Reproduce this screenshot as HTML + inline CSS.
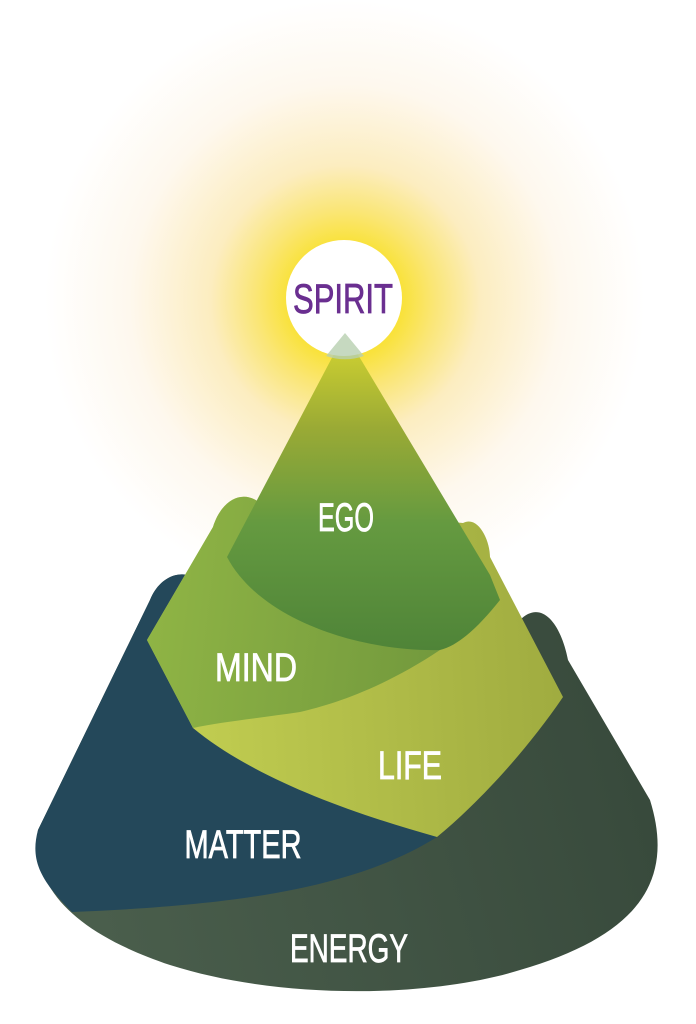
<!DOCTYPE html>
<html><head><meta charset="utf-8"><style>
html,body{margin:0;padding:0;background:#fff;width:696px;height:1024px;overflow:hidden}
svg{display:block}
text{font-family:"Liberation Sans Narrow","Liberation Sans",sans-serif;fill:#fff;stroke:#fff;stroke-width:0.8;font-weight:normal}
</style></head><body>
<svg width="696" height="1024" viewBox="0 0 696 1024" xmlns="http://www.w3.org/2000/svg">
<defs>
<radialGradient id="glow" cx="345" cy="300" r="300" gradientUnits="userSpaceOnUse">
<stop offset="0" stop-color="#fff6a0"/>
<stop offset="0.19" stop-color="#f9e23a"/>
<stop offset="0.3" stop-color="#fae677"/>
<stop offset="0.45" stop-color="#fcedc0"/>
<stop offset="0.72" stop-color="#fef8ee"/>
<stop offset="1" stop-color="#ffffff"/>
</radialGradient>
<linearGradient id="ego" x1="0" y1="333" x2="0" y2="650" gradientUnits="userSpaceOnUse">
<stop offset="0" stop-color="#d6d630"/>
<stop offset="0.3" stop-color="#9aaa35"/>
<stop offset="0.6" stop-color="#659a40"/>
<stop offset="1" stop-color="#4f8438"/>
</linearGradient>
<linearGradient id="mind" x1="150" y1="600" x2="480" y2="640" gradientUnits="userSpaceOnUse">
<stop offset="0" stop-color="#8fb445"/>
<stop offset="1" stop-color="#6f963c"/>
</linearGradient>
<linearGradient id="life" x1="200" y1="720" x2="560" y2="700" gradientUnits="userSpaceOnUse">
<stop offset="0" stop-color="#c0cc50"/>
<stop offset="1" stop-color="#a0ac40"/>
</linearGradient>
<linearGradient id="energy" x1="100" y1="950" x2="650" y2="800" gradientUnits="userSpaceOnUse">
<stop offset="0" stop-color="#4a5e4c"/>
<stop offset="1" stop-color="#384a3c"/>
</linearGradient>
</defs>
<circle cx="345" cy="300" r="300" fill="url(#glow)"/>
<path d="M150,600 C160,575 185,565 205,585 L520,620 C540,600 560,620 568,660 L650,800 C675,880 640,935 520,970 C430,998 280,1000 170,965 C80,935 30,890 38,830 Z" fill="url(#energy)"/>
<path d="M150,600 C160,575 185,565 205,585 L300,650 L437,837 C360,885 250,905 72,912 C40,880 30,860 38,830 Z" fill="#24485a"/>
<path d="M213,527 C222,498 245,488 262,505 L463,523 C478,515 490,540 490,557 L563,697 C520,760 470,810 437,837 C340,810 250,775 193,728 L147,640 Z" fill="url(#life)"/>
<path d="M213,527 C222,498 245,488 262,505 L480,560 L440,650 C380,690 330,705 300,712 C260,718 220,722 193,728 L147,640 Z" fill="url(#mind)"/>
<path d="M345,333 L490,575 L500,600 C480,625 460,645 440,650 C360,652 260,620 227,557 Z" fill="url(#ego)"/>
<circle cx="344" cy="298" r="58" fill="#ffffff"/>
<path d="M345,333 L364,356 A58,58 0 0 1 326,356 Z" fill="#b8d0b0" opacity="0.8"/>
<text x="343" y="313" text-anchor="middle" font-size="42" textLength="100" lengthAdjust="spacingAndGlyphs" style="fill:#6a2f90;stroke:#6a2f90">SPIRIT</text>
<text x="346" y="531" text-anchor="middle" font-size="40" textLength="56" lengthAdjust="spacingAndGlyphs">EGO</text>
<text x="256" y="681" text-anchor="middle" font-size="40" textLength="82" lengthAdjust="spacingAndGlyphs">MIND</text>
<text x="410" y="779" text-anchor="middle" font-size="40" textLength="64" lengthAdjust="spacingAndGlyphs">LIFE</text>
<text x="243" y="858" text-anchor="middle" font-size="40" textLength="117" lengthAdjust="spacingAndGlyphs">MATTER</text>
<text x="349" y="962" text-anchor="middle" font-size="40" textLength="118" lengthAdjust="spacingAndGlyphs">ENERGY</text>
</svg>
</body></html>
